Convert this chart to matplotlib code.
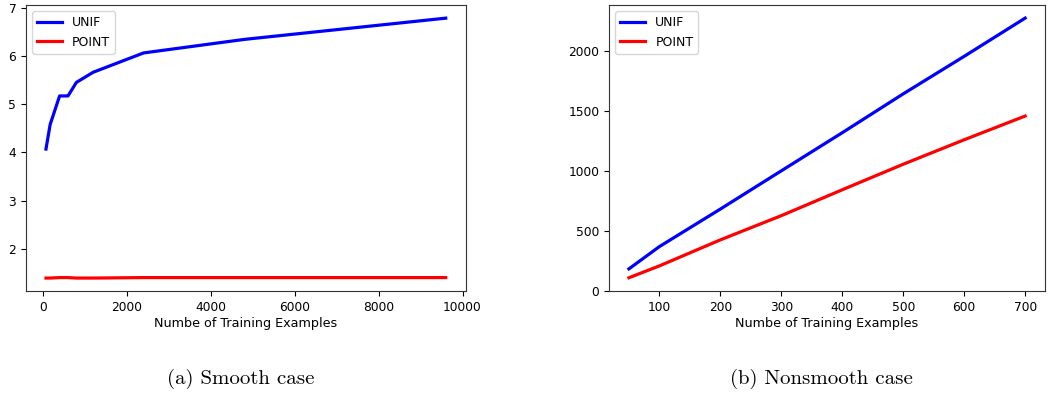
import matplotlib
matplotlib.use('Agg')
import matplotlib.pyplot as plt

# smooth case
n_smooth = [75, 175, 400, 600, 800, 1200, 2400, 4800, 9600]
unif_smooth = [4.07, 4.58, 5.17, 5.17, 5.45, 5.66, 6.06, 6.34, 6.78]
point_smooth = [1.40, 1.40, 1.41, 1.41, 1.40, 1.40, 1.41, 1.41, 1.41]

# nonsmooth case
n_nonsmooth = [50, 100, 200, 300, 400, 500, 600, 700]
unif_nonsmooth = [185, 371, 684, 1003, 1321, 1645, 1958, 2277]
point_nonsmooth = [111, 210, 427, 629, 845, 1058, 1262, 1460]

xlabel = 'Numbe of Training Examples'
captions = ['(a) Smooth case', '(b) Nonsmooth case']

fig = plt.figure(figsize=(10.52, 3.96), dpi=100)
ax1 = fig.add_axes([0.0247, 0.265, 0.418, 0.722])
ax2 = fig.add_axes([0.579, 0.265, 0.4143, 0.722])

for ax, x, u, p in [(ax1, n_smooth, unif_smooth, point_smooth),
                    (ax2, n_nonsmooth, unif_nonsmooth, point_nonsmooth)]:
    ax.plot(x, u, color='blue', lw=2.3, label='UNIF')
    ax.plot(x, p, color='red', lw=2.3, label='POINT')
    ax.set_xlabel(xlabel, fontsize=9.2, labelpad=2)
    ax.tick_params(labelsize=8.8, length=3.5)
    ax.legend(loc='upper left', fontsize=9)
    for s in ax.spines.values():
        s.set_color('#333333')

ax1.set_yticks([2, 3, 4, 5, 6, 7])
ax2.set_ylim(0, 2385)
ax2.set_yticks([0, 500, 1000, 1500, 2000])

fig.text(0.229, 0.03, captions[0], family='cmr10', fontsize=15, ha='center')
fig.text(0.781, 0.03, captions[1], family='cmr10', fontsize=15, ha='center')

fig.savefig('out.png', dpi=100)
